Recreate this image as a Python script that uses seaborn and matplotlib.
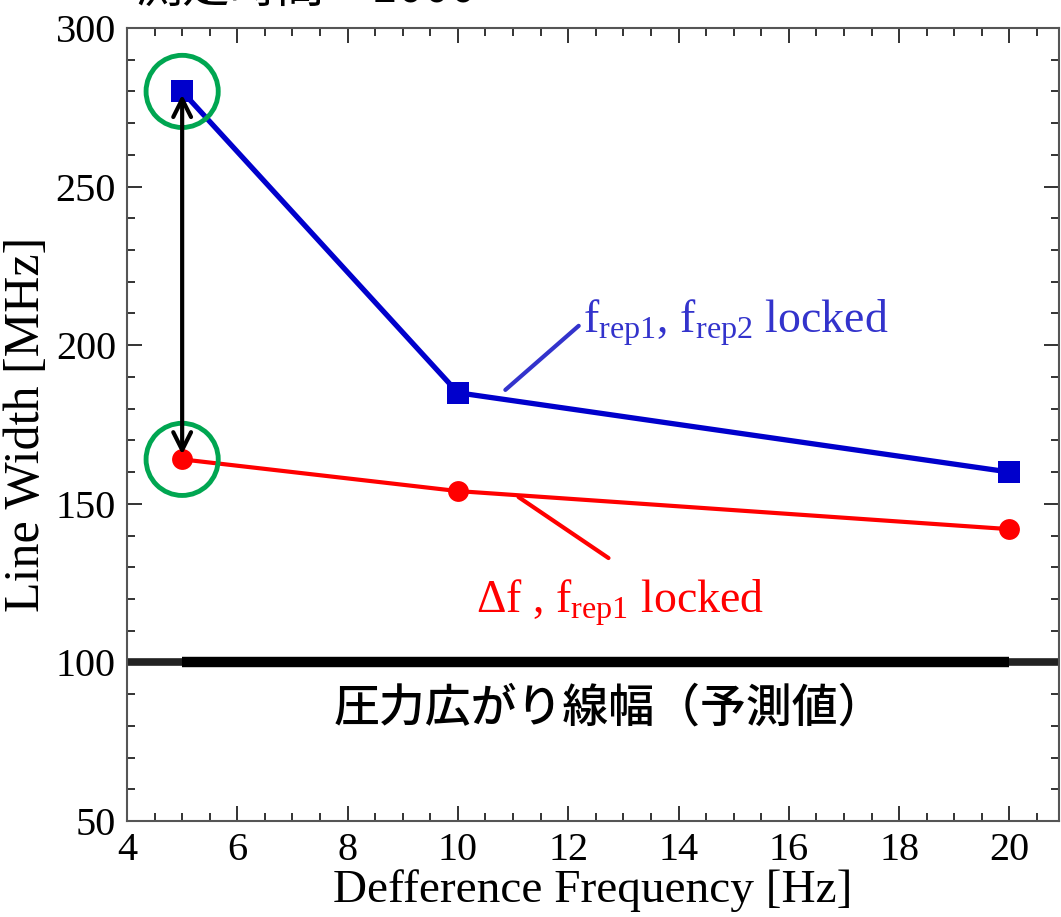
import matplotlib
matplotlib.use('Agg')
import matplotlib.pyplot as plt
import seaborn as sns
import pandas as pd
from matplotlib.ticker import MultipleLocator

# --- datos ---
freq = [5, 10, 20]
width_both = [280, 185, 160]     # f_rep1, f_rep2 locked
width_df = [164, 154, 142]       # Δf, f_rep1 locked
pressure_width = 100             # 圧力広がり線幅（予測値）

x_ticks = [4, 6, 8, 10, 12, 14, 16, 18, 20]
y_ticks = [50, 100, 150, 200, 250, 300]

BLUE = '#0000cc'
BLUE_TXT = '#3333cc'
RED = '#ff0000'
GREEN = '#00a651'

sns.set_theme(style='ticks')
plt.rcParams['font.family'] = ['Liberation Serif', 'Noto Sans CJK JP']
plt.rcParams['mathtext.fontset'] = 'custom'
plt.rcParams['mathtext.rm'] = 'Liberation Serif'
plt.rcParams['mathtext.it'] = 'Liberation Serif'
plt.rcParams['text.color'] = 'black'
plt.rcParams['axes.labelcolor'] = 'black'
plt.rcParams['xtick.labelcolor'] = 'black'
plt.rcParams['ytick.labelcolor'] = 'black'

df_both = pd.DataFrame({'freq': freq, 'width': width_both})
df_df = pd.DataFrame({'freq': freq, 'width': width_df})

fig = plt.figure(figsize=(10.61, 9.17), dpi=100)
ax = fig.add_axes([0.1197, 0.1047, 0.8785, 0.8648])

# línea de referencia (predicción)
ax.axhline(pressure_width, color='#222222', lw=5.5, zorder=2)
ax.hlines(pressure_width, freq[0], freq[-1], color='black', lw=7.5, zorder=3)

sns.lineplot(data=df_both, x='freq', y='width', color=BLUE, lw=3.8,
             marker='s', markersize=16, markeredgewidth=0, ax=ax, zorder=4)
sns.lineplot(data=df_df, x='freq', y='width', color=RED, lw=3.0,
             marker='o', markersize=15, markeredgewidth=0, ax=ax, zorder=4)

# círculos verdes
ax.scatter([freq[0], freq[0]], [width_both[0], width_df[0]], s=2700,
           facecolors='none', edgecolors=GREEN, linewidths=3.5, zorder=5)

# flecha doble
ax.annotate('', xy=(freq[0], width_both[0] - 1), xytext=(freq[0], width_df[0] + 1.5),
            arrowprops=dict(arrowstyle='<->', lw=3, color='black',
                            mutation_scale=32, shrinkA=0, shrinkB=0), zorder=6)

# etiquetas de series
ax.plot([10.86, 12.19], [185.9, 206.1], color=BLUE_TXT, lw=3, zorder=4)
ax.text(12.26, 203.8, r'f$_{\mathregular{rep1}}$, f$_{\mathregular{rep2}}$ locked',
        color=BLUE_TXT, fontsize=33, va='baseline', ha='left')
ax.plot([11.10, 12.73], [152.1, 132.9], color=RED, lw=3, zorder=4)
ax.text(10.32, 115.6, r'$\Delta$f , f$_{\mathregular{rep1}}$ locked',
        color=RED, fontsize=33, va='baseline', ha='left')

ax.text(12.74, 85.6, '圧力広がり線幅（予測値）', fontsize=33, ha='center', va='center',
        color='black', fontweight='medium', family=['Noto Sans CJK JP', 'DejaVu Sans'])

fig.text(0.127, 1 - 14 / 917, '測定時間：1000', fontsize=34, ha='left', va='bottom',
         family=['Noto Sans CJK JP', 'DejaVu Sans'])

ax.set_xlim(4, 20.9)
ax.set_ylim(50, 300)
ax.set_xticks(x_ticks)
ax.set_yticks(y_ticks)
ax.xaxis.set_minor_locator(MultipleLocator(0.5))
ax.yaxis.set_minor_locator(MultipleLocator(10))
ax.tick_params(which='both', direction='in', top=True, right=True, color='#333333', width=1.4)
ax.tick_params(which='major', length=11, labelsize=29, pad=8)
ax.tick_params(which='minor', length=6)
for s in ax.spines.values():
    s.set_color('#555555')
    s.set_linewidth(1.5)

ax.set_xlabel('Defference Frequency [Hz]', fontsize=34, labelpad=0)
ax.set_ylabel('Line Width [MHz]', fontsize=36, labelpad=4)

fig.savefig('out.png', dpi=100)
